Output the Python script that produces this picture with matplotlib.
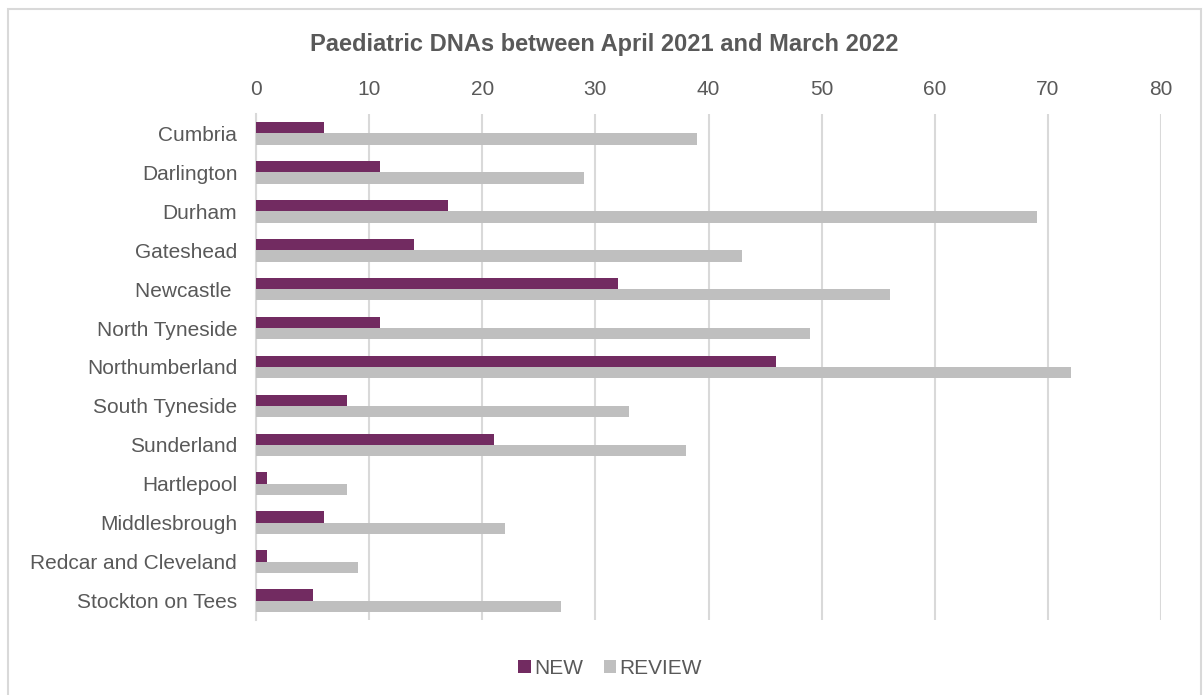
import matplotlib
matplotlib.use("Agg")
import matplotlib.pyplot as plt
from matplotlib.patches import Rectangle
import numpy as np

plt.rcParams["font.family"] = ["Liberation Sans", "DejaVu Sans"]

# Paediatric DNAs by area, April 2021 - March 2022
areas = [
    "Cumbria", "Darlington", "Durham", "Gateshead", "Newcastle ",
    "North Tyneside", "Northumberland", "South Tyneside", "Sunderland",
    "Hartlepool", "Middlesbrough", "Redcar and Cleveland", "Stockton on Tees",
]
new_dnas = [6, 11, 17, 14, 32, 11, 46, 8, 21, 1, 6, 1, 5]
review_dnas = [39, 29, 69, 43, 56, 49, 72, 33, 38, 8, 22, 9, 27]
x_ticks = [0, 10, 20, 30, 40, 50, 60, 70, 80]

NEW_COLOR = "#722B61"
REVIEW_COLOR = "#BFBFBF"
TEXT_COLOR = "#595959"
GRID_COLOR = "#D9D9D9"

W, H = 1203, 695
fig = plt.figure(figsize=(W / 100, H / 100), dpi=100)

# light outer frame around the chart
fig.patches.append(Rectangle((8 / W, -0.02), (1201 - 8) / W, 1 - 9 / H + 0.02,
                             transform=fig.transFigure, fill=False,
                             edgecolor=GRID_COLOR, linewidth=1.5))

ax = fig.add_axes([256 / W, 1 - 620 / H, (1161 - 256) / W, (620 - 114) / H])

y = np.arange(len(areas))
h = 0.29
ax.barh(y - h / 2, new_dnas, height=h, color=NEW_COLOR, label="NEW", zorder=3)
ax.barh(y + h / 2, review_dnas, height=h, color=REVIEW_COLOR, label="REVIEW", zorder=3)

ax.set_ylim(len(areas) - 0.5, -0.5)
ax.set_yticks(y)
ax.set_yticklabels(areas, fontsize=15, color=TEXT_COLOR)

ax.set_xlim(0, 80)
ax.set_xticks(x_ticks)
ax.xaxis.tick_top()
ax.tick_params(axis="x", labelsize=15, labelcolor=TEXT_COLOR, length=0, pad=11)
ax.tick_params(axis="y", length=0, pad=13.5)
ax.grid(axis="x", color=GRID_COLOR, linewidth=1.5, zorder=0)

for side in ["top", "right", "bottom"]:
    ax.spines[side].set_visible(False)
ax.spines["left"].set_color(GRID_COLOR)
ax.spines["left"].set_linewidth(1.5)

fig.text(604 / W, 1 - 45 / H, "Paediatric DNAs between April 2021 and March 2022",
         ha="center", va="center", fontsize=17, fontweight="bold", color=TEXT_COLOR)

fig.legend(loc="center", bbox_to_anchor=(610 / W, 1 - 668 / H), ncol=2,
           frameon=False, fontsize=15, labelcolor=TEXT_COLOR,
           handlelength=0.6, handleheight=0.6, handletextpad=0.15,
           columnspacing=1.0)

fig.savefig("out.png", dpi=100)
